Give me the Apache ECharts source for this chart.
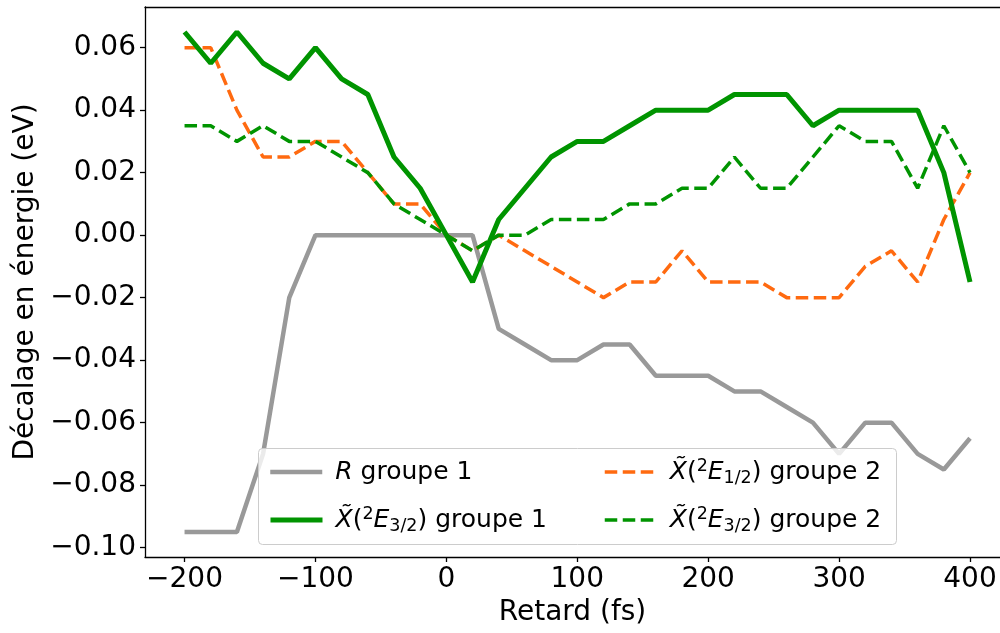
<!DOCTYPE html>
<html>
<head>
<meta charset="utf-8">
<script src="https://cdn.jsdelivr.net/npm/echarts@6/dist/echarts.min.js"></script>
<style>
  html, body { margin: 0; padding: 0; background: #fff; }
  #chart { width: 1000px; height: 633px; }
</style>
</head>
<body>
<div id="chart"></div>
<script>
// Pump-probe delay (fs)
const delays = [-200, -180, -160, -140, -120, -100, -80, -60, -40, -20, 0, 20, 40, 60, 80, 100,
                120, 140, 160, 180, 200, 220, 240, 260, 280, 300, 320, 340, 360, 380, 400];

// Energy shifts (eV)
const rGroupe1 = [-0.095, -0.095, -0.095, -0.07, -0.02, 0, 0, 0, 0, 0, 0, 0, -0.03, -0.035, -0.04, -0.04,
                  -0.035, -0.035, -0.045, -0.045, -0.045, -0.05, -0.05, -0.055, -0.06, -0.07, -0.06, -0.06, -0.07, -0.075, -0.065];
const x32Groupe1 = [0.065, 0.055, 0.065, 0.055, 0.05, 0.06, 0.05, 0.045, 0.025, 0.015, 0.0, -0.015, 0.005, 0.015, 0.025, 0.03,
                    0.03, 0.035, 0.04, 0.04, 0.04, 0.045, 0.045, 0.045, 0.035, 0.04, 0.04, 0.04, 0.04, 0.02, -0.015];
const x12Groupe2 = [0.06, 0.06, 0.04, 0.025, 0.025, 0.03, 0.03, 0.02, 0.01, 0.01, 0.0, -0.005, 0.0, -0.005, -0.01, -0.015,
                    -0.02, -0.015, -0.015, -0.005, -0.015, -0.015, -0.015, -0.02, -0.02, -0.02, -0.01, -0.005, -0.015, 0.005, 0.02];
const x32Groupe2 = [0.035, 0.035, 0.03, 0.035, 0.03, 0.03, 0.025, 0.02, 0.01, 0.005, 0.0, -0.005, 0.0, 0.0, 0.005, 0.005,
                    0.005, 0.01, 0.01, 0.015, 0.015, 0.025, 0.015, 0.015, 0.025, 0.035, 0.03, 0.03, 0.015, 0.035, 0.02];

// Tick positions
const xTicks = [-200, -100, 0, 100, 200, 300, 400];
const yTicks = [-0.10, -0.08, -0.06, -0.04, -0.02, 0.00, 0.02, 0.04, 0.06];

const names = ['R groupe 1', 'X̃(²E3/2) groupe 1', 'X̃(²E1/2) groupe 2', 'X̃(²E3/2) groupe 2'];
const richLabels = {
  'R groupe 1': '{it|R} groupe 1',
  'X̃(²E3/2) groupe 1': '{it|X̃}({sup|2}{it|E}{sub|3/2}) groupe 1',
  'X̃(²E1/2) groupe 2': '{it|X̃}({sup|2}{it|E}{sub|1/2}) groupe 2',
  'X̃(²E3/2) groupe 2': '{it|X̃}({sup|2}{it|E}{sub|3/2}) groupe 2'
};

const FONT = 'DejaVu Sans';
const GREY = '#999999', GREEN = '#009400', ORANGE = '#ff6a10';
const DASH = [12.5, 5.5];
const minus = s => s.replace('-', '\u2212');
const pairs = ys => delays.map((d, i) => [d, ys[i]]);

const X_MIN = -230.2, X_MAX = 422.9;
const Y_MIN = -0.103, Y_MAX = 0.073;

const styles = [
  { color: GREY, width: 4.5, type: 'solid' },
  { color: GREEN, width: 5, type: 'solid' },
  { color: ORANGE, width: 3.5, type: DASH },
  { color: GREEN, width: 3.5, type: DASH }
];

const legendText = {
  fontFamily: FONT, fontSize: 25, color: '#000', lineHeight: 30, padding: [0, 0, 0, 8],
  rich: {
    it: { fontFamily: FONT, fontSize: 25, fontStyle: 'italic', lineHeight: 30 },
    sup: { fontFamily: FONT, fontSize: 17.5, lineHeight: 14, verticalAlign: 'top' },
    sub: { fontFamily: FONT, fontSize: 17.5, lineHeight: 22, verticalAlign: 'bottom' }
  }
};
function legendAt(i, left, top) {
  return {
    data: [names[i]], left: left, top: top, orient: 'vertical',
    itemWidth: 52, itemHeight: 14, itemGap: 0, padding: 0,
    selectedMode: false, z: 5,
    itemStyle: { opacity: 0 },
    lineStyle: { color: styles[i].color, width: styles[i].width, type: styles[i].type, cap: 'butt' },
    formatter: n => richLabels[n],
    textStyle: legendText
  };
}

const axisLineStyle = { color: '#000', width: 1.3 };

const chart = echarts.init(document.getElementById('chart'), null, { renderer: 'canvas' });
chart.setOption({
  animation: false,
  backgroundColor: '#fff',
  grid: { left: 145, right: 0, top: 7, bottom: 76 },
  xAxis: [{
    type: 'value', min: X_MIN, max: X_MAX, position: 'bottom',
    name: 'Retard (fs)', nameLocation: 'middle', nameGap: 42,
    nameTextStyle: { fontFamily: FONT, fontSize: 28, color: '#000' },
    axisLine: { show: true, onZero: false, lineStyle: axisLineStyle },
    axisTick: { show: true, length: 5, customValues: xTicks, lineStyle: axisLineStyle },
    axisLabel: { customValues: xTicks, margin: 9, fontFamily: FONT, fontSize: 28, color: '#000',
                 formatter: v => minus(String(Math.round(v))) },
    splitLine: { show: false }
  }, {
    // top frame edge
    type: 'value', min: X_MIN, max: X_MAX, position: 'top',
    axisLine: { show: true, onZero: false, lineStyle: axisLineStyle },
    axisTick: { show: false }, axisLabel: { show: false }, splitLine: { show: false }
  }],
  yAxis: {
    type: 'value', min: Y_MIN, max: Y_MAX,
    name: 'Décalage en énergie (eV)', nameLocation: 'middle', nameGap: 104,
    nameTextStyle: { fontFamily: FONT, fontSize: 28, color: '#000' },
    axisLine: { show: true, onZero: false, lineStyle: axisLineStyle },
    axisTick: { show: true, length: 5, customValues: yTicks, lineStyle: axisLineStyle },
    axisLabel: { customValues: yTicks, margin: 9, fontFamily: FONT, fontSize: 28, color: '#000',
                 formatter: v => minus(v.toFixed(2)) },
    splitLine: { show: false }
  },
  legend: [
    legendAt(0, 268, 457),
    legendAt(1, 268, 505),
    legendAt(2, 603, 457),
    legendAt(3, 603, 505)
  ],
  graphic: [{
    type: 'rect', z: 4,
    shape: { x: 258.5, y: 448.5, width: 638, height: 96, r: 4 },
    style: { fill: 'rgba(255,255,255,0.8)', stroke: '#cccccc', lineWidth: 1 }
  }],
  series: [
    { name: names[0], type: 'line', data: pairs(rGroupe1), symbol: 'none', z: 2,
      lineStyle: styles[0], itemStyle: { color: GREY } },
    { name: names[1], type: 'line', data: pairs(x32Groupe1), symbol: 'none', z: 3,
      lineStyle: styles[1], itemStyle: { color: GREEN } },
    { name: names[2], type: 'line', data: pairs(x12Groupe2), symbol: 'none', z: 2,
      lineStyle: styles[2], itemStyle: { color: ORANGE } },
    { name: names[3], type: 'line', data: pairs(x32Groupe2), symbol: 'none', z: 2,
      lineStyle: styles[3], itemStyle: { color: GREEN } }
  ]
});
</script>
</body>
</html>
